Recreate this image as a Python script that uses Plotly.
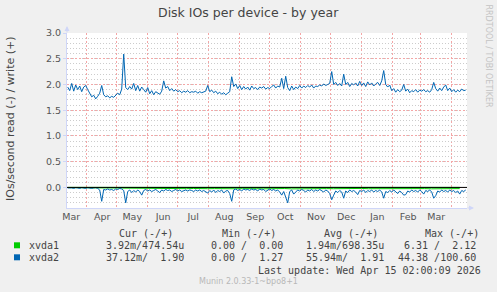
import pandas as pd
import plotly.graph_objects as go

# ---------------- data ----------------
dates_2d = pd.date_range("2025-03-13", periods=200, freq="2D")

xvda2_write = [
    1.95, 1.88, 2.02, 1.87, 1.99, 1.90, 1.97, 1.86, 1.95, 1.98,
    1.90, 1.84, 1.76, 1.79, 1.72, 1.77, 1.83, 1.98, 1.80, 1.76,
    1.78, 1.74, 1.77, 1.75, 1.80, 1.83, 1.80, 1.91, 2.59, 1.94,
    1.90, 1.96, 1.91, 2.02, 1.88, 1.98, 1.87, 1.95, 1.90, 1.85,
    1.94, 1.82, 1.88, 1.80, 1.86, 1.84, 1.81, 1.87, 2.07, 1.93,
    1.96, 1.88, 1.92, 1.87, 1.90, 1.86, 1.88, 1.84, 1.87, 1.85,
    1.88, 1.84, 1.86, 1.85, 1.87, 1.83, 1.86, 1.84, 1.85, 1.87,
    1.98, 1.86, 1.89, 1.84, 1.87, 1.82, 1.85, 1.81, 1.84, 1.80,
    1.83, 1.86, 2.15, 1.96, 2.01, 1.92, 1.98, 1.90, 1.96, 1.91,
    1.95, 1.89, 1.97, 1.92, 1.94, 1.90, 1.95, 1.93, 1.96, 1.91,
    1.94, 1.92, 1.96, 1.99, 1.93, 1.97, 1.95, 2.12, 1.92, 2.16,
    1.94, 1.88, 1.97, 1.90, 1.95, 1.92, 1.98, 1.93, 1.97, 1.94,
    1.98, 1.95, 1.99, 1.93, 1.97, 1.96, 1.99, 1.97, 2.01, 1.98,
    2.00, 2.02, 2.25, 2.00, 2.04, 1.98, 2.02, 1.97, 2.20, 2.00,
    2.04, 1.96, 2.02, 1.99, 2.03, 1.97, 2.06, 1.98, 2.03, 1.96,
    2.05, 1.99, 2.03, 1.97, 2.01, 2.04, 1.98, 2.07, 2.27, 2.00,
    1.95, 1.99, 1.88, 1.92, 1.85, 1.90, 1.86, 1.89, 2.00, 1.87,
    1.91, 1.84, 1.88, 1.86, 1.90, 1.85, 1.89, 1.87, 1.90, 1.86,
    1.88, 1.85, 1.90, 2.04, 1.92, 1.87, 1.93, 1.88, 1.95, 1.99,
    1.88, 1.93, 1.86, 1.90, 1.85, 1.89, 1.86, 1.91, 1.88, 1.89,
]

xvda2_read = [
    -0.010, -0.005, -0.010, -0.020, -0.005, -0.010, -0.020, -0.005, -0.010, -0.020,
    -0.005, -0.010, -0.020, -0.010, -0.005, -0.020, -0.050, -0.270, -0.040, -0.050,
    -0.030, -0.050, -0.040, -0.060, -0.030, -0.040, -0.020, -0.030, -0.060, -0.300,
    -0.080, -0.050, -0.100, -0.060, -0.090, -0.050, -0.080, -0.150, -0.060, -0.040,
    -0.070, -0.050, -0.080, -0.060, -0.040, -0.070, -0.100, -0.050, -0.070, -0.040,
    -0.060, -0.050, -0.080, -0.060, -0.040, -0.070, -0.050, -0.080, -0.060, -0.050,
    -0.070, -0.050, -0.060, -0.080, -0.050, -0.070, -0.050, -0.080, -0.060, -0.090,
    -0.110, -0.060, -0.090, -0.050, -0.100, -0.060, -0.080, -0.050, -0.110, -0.070,
    -0.060, -0.120, -0.270, -0.050, -0.030, -0.060, -0.040, -0.070, -0.030, -0.050,
    -0.040, -0.060, -0.030, -0.050, -0.040, -0.070, -0.030, -0.050, -0.040, -0.080,
    -0.050, -0.030, -0.060, -0.040, -0.070, -0.050, -0.090, -0.150, -0.080, -0.200,
    -0.300, -0.080, -0.050, -0.130, -0.090, -0.050, -0.070, -0.040, -0.060, -0.090,
    -0.050, -0.070, -0.040, -0.080, -0.050, -0.070, -0.040, -0.060, -0.090, -0.050,
    -0.070, -0.120, -0.240, -0.150, -0.070, -0.100, -0.060, -0.090, -0.210, -0.070,
    -0.100, -0.050, -0.080, -0.060, -0.090, -0.140, -0.060, -0.080, -0.050, -0.100,
    -0.060, -0.080, -0.050, -0.090, -0.060, -0.080, -0.050, -0.090, -0.210, -0.080,
    -0.100, -0.060, -0.090, -0.050, -0.080, -0.120, -0.070, -0.100, -0.150, -0.140,
    -0.070, -0.090, -0.050, -0.080, -0.060, -0.090, -0.050, -0.080, -0.130, -0.060,
    -0.080, -0.050, -0.090, -0.210, -0.160, -0.070, -0.090, -0.050, -0.080, -0.060,
    -0.090, -0.050, -0.080, -0.060, -0.100, -0.070, -0.130, -0.060, -0.080, -0.050,
]

dates_wk = pd.date_range("2025-03-13", periods=57, freq="7D")

xvda1_read = [
    -0.004, -0.006, -0.005, -0.003, -0.006, -0.005, -0.004, -0.008, -0.018, -0.022,
    -0.025, -0.020, -0.024, -0.028, -0.022, -0.026, -0.030, -0.024, -0.021, -0.027,
    -0.025, -0.023, -0.028, -0.022, -0.026, -0.024, -0.020, -0.025, -0.027, -0.023,
    -0.026, -0.022, -0.028, -0.025, -0.021, -0.024, -0.027, -0.023, -0.025, -0.022,
    -0.026, -0.024, -0.020, -0.025, -0.023, -0.027, -0.022, -0.024, -0.026, -0.021,
    -0.025, -0.023, -0.027, -0.024, -0.022, -0.025, -0.023,
]

xvda1_write = [
    0.0005, 0.0008, 0.0006, 0.0007, 0.0009, 0.0006, 0.0007, 0.0008, 0.0006, 0.0007,
    0.0008, 0.0007, 0.0006, 0.0009, 0.0007, 0.0006, 0.0008, 0.0007, 0.0007, 0.0006,
    0.0008, 0.0007, 0.0006, 0.0007, 0.0009, 0.0007, 0.0006, 0.0008, 0.0007, 0.0006,
    0.0007, 0.0008, 0.0006, 0.0007, 0.0008, 0.0007, 0.0006, 0.0007, 0.0008, 0.0007,
    0.0006, 0.0007, 0.0008, 0.0006, 0.0007, 0.0008, 0.0007, 0.0006, 0.0007, 0.0008,
    0.0007, 0.0006, 0.0007, 0.0008, 0.0007, 0.0006, 0.0007,
]

month_labels = ["Mar", "Apr", "May", "Jun", "Jul", "Aug", "Sep", "Oct",
                "Nov", "Dec", "Jan", "Feb", "Mar"]
month_label_pos = [pd.Timestamp(f"{y}-{m:02d}-16 12:00") for y, m in
                   [(2025, 3), (2025, 4), (2025, 5), (2025, 6), (2025, 7), (2025, 8),
                    (2025, 9), (2025, 10), (2025, 11), (2025, 12), (2026, 1),
                    (2026, 2), (2026, 3)]]
month_starts = pd.date_range("2025-04-01", "2026-04-01", freq="MS")

y_ticks = [0.0, 0.5, 1.0, 1.5, 2.0, 2.5, 3.0]
y_ticktext = ["0.0", "0.5", "1.0", "1.5", "2.0", "2.5", "3.0"]

devices = ["xvda1", "xvda2"]
colors = {"xvda1": "#00CC00", "xvda2": "#0066B3"}
cur_txt = ["3.92m/474.54u", "37.12m/  1.90"]
min_txt = ["0.00 /  0.00", "0.00 /  1.27"]
avg_txt = ["1.94m/698.35u", "55.94m/  1.91"]
max_txt = ["6.31 /  2.12", "44.38 /100.60"]

title_text = "Disk IOs per device - by year"
ylabel_text = "IOs/second read (-) / write (+)"
last_update = "Last update: Wed Apr 15 02:00:09 2026"
munin_ver = "Munin 2.0.33-1~bpo8+1"
watermark = "RRDTOOL / TOBI OETIKER"

# ---------------- geometry ----------------
W, H = 497, 292
L, R, T, B = 67, 30, 33, 84
PW, PH = W - L - R, H - T - B


def px(x):
    return (x - L) / PW


def py(y):
    return (H - B - y) / PH


AXIS = "#CFD6F8"
FONT = "#444444"
MGRID = "#F4A6A6"
GRID = "#CCCCCC"
SANS = "DejaVu Sans"
MONO = "DejaVu Sans Mono"

fig = go.Figure()
fig.add_trace(go.Scatter(x=dates_wk, y=xvda1_read, mode="lines",
                         line=dict(color=colors["xvda1"], width=1), hoverinfo="skip"))
fig.add_trace(go.Scatter(x=dates_wk, y=xvda1_write, mode="lines",
                         line=dict(color=colors["xvda1"], width=1), hoverinfo="skip"))
fig.add_trace(go.Scatter(x=dates_2d, y=xvda2_read, mode="lines",
                         line=dict(color=colors["xvda2"], width=1), hoverinfo="skip"))
fig.add_trace(go.Scatter(x=dates_2d, y=xvda2_write, mode="lines",
                         line=dict(color=colors["xvda2"], width=1), hoverinfo="skip"))

fig.add_hline(y=0, line=dict(color="#000000", width=1), layer="above")

fig.update_layout(
    width=W, height=H, autosize=False,
    margin=dict(l=L, r=R, t=T, b=B, pad=0),
    paper_bgcolor="#F0F0F0", plot_bgcolor="#FFFFFF",
    showlegend=False,
    font=dict(family=SANS, size=10, color=FONT),
    xaxis=dict(
        type="date",
        range=["2025-03-12 07:00", "2026-04-16 07:00"],
        tickmode="array", tickvals=month_label_pos, ticktext=month_labels,
        showgrid=False, zeroline=False,
        ticks="", ticklen=0,
        tickfont=dict(family=SANS, size=9.5, color="#555555"),
        showline=True, linecolor=AXIS, linewidth=1,
        minor=dict(tickmode="array", tickvals=list(month_starts), showgrid=True,
                   gridcolor=MGRID, griddash="2px,2px", gridwidth=1, ticks=""),
        fixedrange=True,
    ),
    yaxis=dict(
        range=[-0.4, 3.0],
        tickmode="array", tickvals=y_ticks, ticktext=y_ticktext,
        showgrid=True, gridcolor=MGRID, griddash="2px,2px", gridwidth=1,
        zeroline=False,
        ticks="outside", ticklen=3, tickcolor=AXIS,
        tickfont=dict(family=SANS, size=9.5, color="#555555"),
        showline=True, linecolor=AXIS, linewidth=1,
        minor=dict(dtick=0.1, tick0=0, showgrid=True, gridcolor=GRID,
                   griddash="1px,2px", gridwidth=1),
        fixedrange=True,
    ),
)

ann = []
# title
ann.append(dict(text=title_text, xref="paper", yref="paper", x=px(248.5), y=py(13),
                xanchor="center", yanchor="middle", showarrow=False,
                font=dict(family=SANS, size=12.5, color=FONT)))
# y label
ann.append(dict(text=ylabel_text, xref="paper", yref="paper", x=px(10), y=py(119),
                xanchor="center", yanchor="middle", showarrow=False, textangle=-90,
                font=dict(family=SANS, size=11, color=FONT)))
# watermark
ann.append(dict(text=watermark, xref="paper", yref="paper", x=px(488.5), y=py(56),
                xanchor="center", yanchor="middle", showarrow=False, textangle=90,
                font=dict(family=SANS, size=8, color="#C4C4C4")))
# axis arrows
ann.append(dict(text="", xref="paper", yref="paper", x=0, y=py(26), ax=0, ay=8,
                showarrow=True, arrowhead=2, arrowsize=1, arrowwidth=1, arrowcolor=AXIS))
ann.append(dict(text="", xref="paper", yref="paper", x=px(474), y=0, ax=-8, ay=0,
                showarrow=True, arrowhead=2, arrowsize=1, arrowwidth=1, arrowcolor=AXIS))

NB = "\u00a0"
mono = dict(family=MONO, size=10, color=FONT)
headers = [("Cur (-/+)", 117), ("Min (-/+)", 220), ("Avg (-/+)", 321.7), ("Max (-/+)", 423)]
for t, x in headers:
    ann.append(dict(text=t.replace(" ", NB), xref="paper", yref="paper", x=px(x), y=py(233.5),
                    xanchor="left", yanchor="middle", showarrow=False, font=mono))

shapes = []
for i, dev in enumerate(devices):
    yc = 245.3 + 12 * i
    ann.append(dict(text=dev, xref="paper", yref="paper", x=px(26.7), y=py(yc),
                    xanchor="left", yanchor="middle", showarrow=False, font=mono))
    for t, x, anc in [(cur_txt[i], 186, "right"), (min_txt[i], 209, "left"),
                      (avg_txt[i], 385.5, "right"), (max_txt[i], 478, "right")]:
        ann.append(dict(text=t.replace(" ", NB), xref="paper", yref="paper", x=px(x), y=py(yc),
                        xanchor=anc, yanchor="middle", showarrow=False, font=mono))
    shapes.append(dict(type="rect", xref="paper", yref="paper",
                       x0=px(14), x1=px(20), y0=py(yc + 3), y1=py(yc - 3),
                       fillcolor=colors[dev], line=dict(width=0)))

ann.append(dict(text=last_update.replace(" ", NB), xref="paper", yref="paper", x=px(483),
                y=py(270), xanchor="right", yanchor="middle", showarrow=False, font=mono))
ann.append(dict(text=munin_ver, xref="paper", yref="paper", x=px(248), y=py(281.5),
                xanchor="center", yanchor="middle", showarrow=False,
                font=dict(family=SANS, size=8, color="#B8B8B8")))

fig.update_layout(annotations=ann, shapes=list(fig.layout.shapes) + shapes)

fig.write_html("out.html", include_plotlyjs=True, config={"displayModeBar": False})
